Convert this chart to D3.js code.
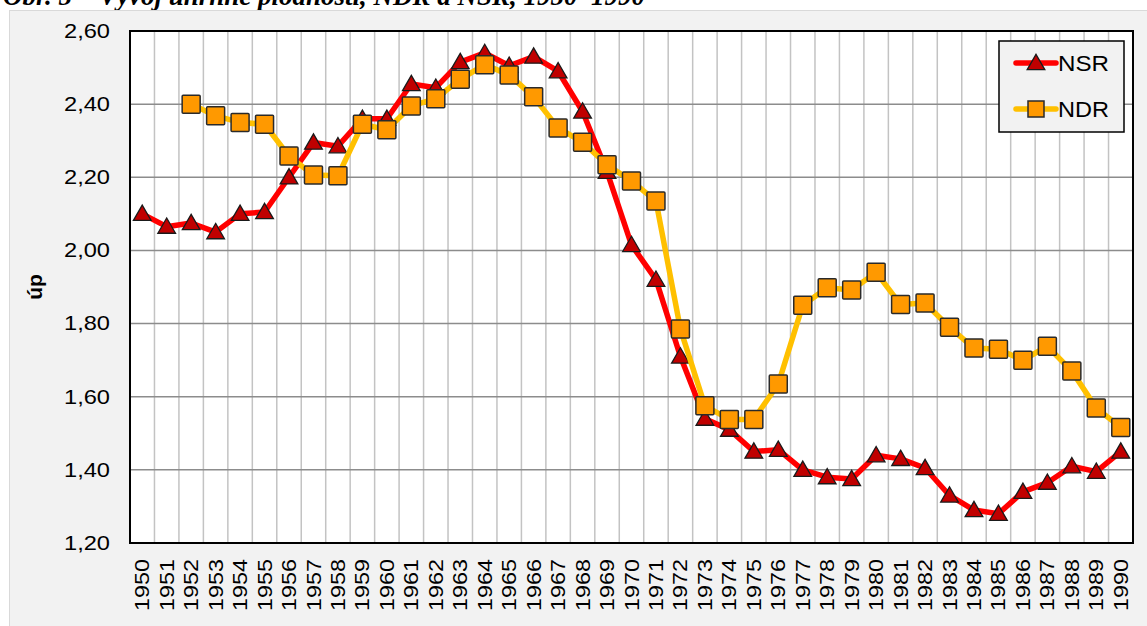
<!DOCTYPE html>
<html>
<head>
<meta charset="utf-8">
<script src="https://cdn.jsdelivr.net/npm/d3@7"></script>
<style>
    body { margin: 0; background: #fff; }
    svg { display: block; }
</style>
</head>
<body>
<svg id="chart" width="1147" height="626"></svg>
<script>
// data
const years = d3.range(1950, 1991)
const nsrValues = [2.10, 2.065, 2.075, 2.05, 2.10, 2.105, 2.20, 2.295, 2.285, 2.36, 2.36,
    2.455, 2.445, 2.515, 2.54, 2.505, 2.53, 2.49, 2.38, 2.215, 2.015,
    1.92, 1.71, 1.54, 1.51, 1.45, 1.455, 1.40, 1.38, 1.375, 1.44,
    1.43, 1.405, 1.33, 1.29, 1.28, 1.34, 1.365, 1.41, 1.395, 1.45]
// NDR starts in 1952
const ndrValues = [null, null, 2.40, 2.368, 2.35, 2.345, 2.258, 2.206, 2.204, 2.345, 2.33,
    2.395, 2.415, 2.468, 2.508, 2.48, 2.42, 2.335, 2.296, 2.234, 2.19,
    2.135, 1.785, 1.575, 1.538, 1.538, 1.635, 1.85, 1.898, 1.892, 1.94,
    1.852, 1.856, 1.79, 1.733, 1.73, 1.70, 1.738, 1.67, 1.569, 1.516]
const yTicks = [1.20, 1.40, 1.60, 1.80, 2.00, 2.20, 2.40, 2.60]
const seriesNames = ["NSR", "NDR"]
const titleText = "Obr. 5 – Vývoj úhrnné plodnosti, NDR a NSR, 1950–1990"
const yLabel = "úp"

const svg = d3.select("#chart")
const plot = { left: 130, right: 1133, top: 31, bottom: 543 }
const czFormat = d3.formatLocale({ decimal: ",", thousands: " ", grouping: [3], currency: ["", ""] }).format(".2f")

// title, cut at the top of the picture like in the source
svg.append("text")
    .attr("x", 3).attr("y", 5)
    .attr("font-family", "Liberation Serif")
    .attr("font-weight", "bold").attr("font-style", "italic")
    .attr("font-size", 27)
    .text(titleText)

// chart area
svg.append("rect")
    .attr("x", 9.5).attr("y", 10.5).attr("width", 1150).attr("height", 630)
    .attr("fill", "#f2f2f2").attr("stroke", "#d9d9d9")

let scX = d3.scaleBand().domain(years).range([plot.left, plot.right]).padding(0)
let scY = d3.scaleLinear().domain([1.2, 2.6]).range([plot.bottom, plot.top])
let cx = d => scX(d) + scX.bandwidth() / 2

svg.append("rect")
    .attr("x", plot.left).attr("y", plot.top)
    .attr("width", plot.right - plot.left).attr("height", plot.bottom - plot.top)
    .attr("fill", "#fff")

// vertical grid at category borders
svg.append("g").selectAll("line").data(years.slice(1))
    .enter().append("line")
    .attr("x1", d => scX(d)).attr("x2", d => scX(d))
    .attr("y1", plot.top).attr("y2", plot.bottom)
    .attr("stroke", "#c3c3c3").attr("stroke-width", 1.5)

// horizontal grid
svg.append("g").selectAll("line").data(yTicks.slice(1, -1))
    .enter().append("line")
    .attr("x1", plot.left).attr("x2", plot.right)
    .attr("y1", d => scY(d)).attr("y2", d => scY(d))
    .attr("stroke", "#8c8c8c").attr("stroke-width", 1.5)

svg.append("rect")
    .attr("x", plot.left).attr("y", plot.top)
    .attr("width", plot.right - plot.left).attr("height", plot.bottom - plot.top)
    .attr("fill", "none").attr("stroke", "#000").attr("stroke-width", 2)

// y axis
let yAxis = svg.append("g")
    .attr("transform", "translate(" + (plot.left - 11) + ",0)")
    .call(d3.axisLeft(scY).tickValues(yTicks).tickFormat(czFormat).tickSize(0).tickPadding(9))
yAxis.select(".domain").remove()
yAxis.selectAll("text")
    .attr("font-family", "Liberation Sans").attr("font-size", 20).attr("fill", "#000")
    .attr("textLength", 46).attr("lengthAdjust", "spacingAndGlyphs")

svg.append("text")
    .attr("transform", "translate(42," + (plot.top + plot.bottom) / 2 + ") rotate(-90)")
    .attr("text-anchor", "middle")
    .attr("font-family", "Liberation Sans").attr("font-weight", "bold").attr("font-size", 21)
    .text(yLabel)

// x axis, rotated years
let xAxis = svg.append("g")
    .attr("transform", "translate(0," + plot.bottom + ")")
    .call(d3.axisBottom(scX).tickSize(0).tickPadding(0))
xAxis.select(".domain").remove()
xAxis.selectAll("text")
    .attr("font-family", "Liberation Sans").attr("font-size", 19.5).attr("fill", "#000")
    .attr("text-anchor", "end")
    .attr("transform", "rotate(-90)")
    .attr("x", -16).attr("y", 0).attr("dy", "0.36em")
    .attr("textLength", 52).attr("lengthAdjust", "spacingAndGlyphs")

// series
const nsrData = years.map((y, i) => ({ year: y, value: nsrValues[i] }))
const ndrData = years.map((y, i) => ({ year: y, value: ndrValues[i] })).filter(d => d.value != null)

let lnMkr = d3.line().x(d => cx(d.year)).y(d => scY(d.value))
const triangle = d3.symbol().type(d3.symbolTriangle).size(135)

function drawSeries(data, lineColor, markerColor, shape) {
    let g = svg.append("g")
    g.append("path")
        .attr("d", lnMkr(data))
        .attr("fill", "none").attr("stroke", lineColor).attr("stroke-width", 5.5)
        .attr("stroke-linejoin", "round").attr("stroke-linecap", "round")
    let marks = g.selectAll(".mark").data(data).enter()
    if (shape == "triangle")
        marks.append("path").attr("class", "mark")
            .attr("d", triangle)
            .attr("transform", d => `translate(${cx(d.year)},${scY(d.value) + 1.5})`)
            .attr("fill", markerColor).attr("stroke", "#1a1a1a").attr("stroke-width", 1.3)
    else
        marks.append("rect").attr("class", "mark")
            .attr("x", d => cx(d.year) - 9).attr("y", d => scY(d.value) - 9)
            .attr("width", 18).attr("height", 18).attr("rx", 1)
            .attr("fill", markerColor).attr("stroke", "#2a2a2a").attr("stroke-width", 1.5)
}
drawSeries(nsrData, "#ff0000", "#c00000", "triangle")
drawSeries(ndrData, "#ffc000", "#ff9900", "square")

// legend
let legend = svg.append("g").attr("transform", "translate(999,41)")
legend.append("rect")
    .attr("width", 125).attr("height", 91)
    .attr("fill", "#f2f2f2").attr("stroke", "#000").attr("stroke-width", 1.5)
seriesNames.forEach((name, i) => {
    let y = 22 + i * 46
    let row = legend.append("g").attr("transform", `translate(0,${y})`)
    row.append("line").attr("x1", 17).attr("x2", 57).attr("y1", 0).attr("y2", 0)
        .attr("stroke", i == 0 ? "#ff0000" : "#ffc000").attr("stroke-width", 5.5)
        .attr("stroke-linecap", "round")
    if (i == 0)
        row.append("path").attr("d", triangle).attr("transform", "translate(37,1.5)")
            .attr("fill", "#c00000").attr("stroke", "#1a1a1a").attr("stroke-width", 1.3)
    else
        row.append("rect").attr("x", 29).attr("y", -8).attr("width", 16).attr("height", 16)
            .attr("fill", "#ff9900").attr("stroke", "#2a2a2a").attr("stroke-width", 1.5)
    row.append("text")
        .attr("x", 59).attr("y", 0).attr("dy", "0.36em")
        .attr("font-family", "Liberation Sans").attr("font-size", 22)
        .attr("textLength", 51).attr("lengthAdjust", "spacingAndGlyphs")
        .text(name)
})
</script>
</body>
</html>
